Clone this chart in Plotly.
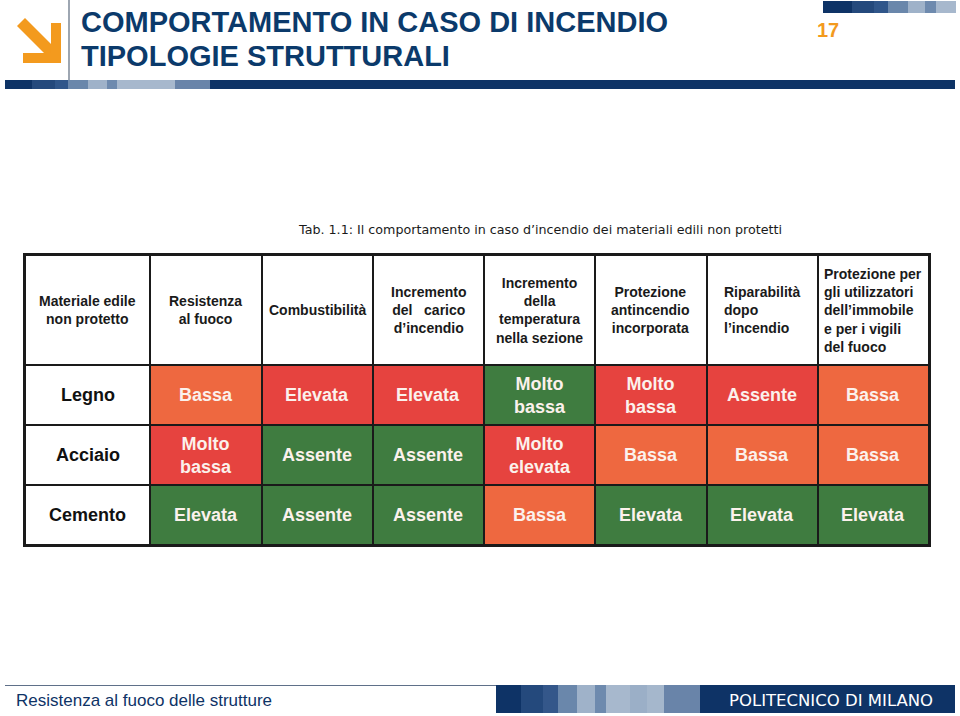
import plotly.graph_objects as go

W, H = 960, 716

# --- data -----------------------------------------------------------------
materials = ["Legno", "Acciaio", "Cemento"]
headers = [
    "Materiale edile<br>non protetto",
    "Resistenza<br>al fuoco",
    "Combustibilità",
    "Incremento<br>del   carico<br>d’incendio",
    "Incremento<br>della<br>temperatura<br>nella sezione",
    "Protezione<br>antincendio<br>incorporata",
    "Riparabilità<br>dopo<br>l’incendio",
    "Protezione per<br>gli utilizzatori<br>dell’immobile<br>e per i vigili<br>del fuoco",
]
values = [
    ["Bassa", "Elevata", "Elevata", "Molto<br>bassa", "Molto<br>bassa", "Assente", "Bassa"],
    ["Molto<br>bassa", "Assente", "Assente", "Molto<br>elevata", "Bassa", "Bassa", "Bassa"],
    ["Elevata", "Assente", "Assente", "Bassa", "Elevata", "Elevata", "Elevata"],
]
# 1 = favorevole (verde), 2 = medio (arancio), 3 = sfavorevole (rosso)
ratings = [
    [2, 3, 3, 1, 3, 3, 2],
    [3, 1, 1, 3, 2, 2, 2],
    [1, 1, 1, 2, 1, 1, 1],
]
caption = "Tab. 1.1: Il comportamento in caso d’incendio dei materiali edili non protetti"

# --- style ----------------------------------------------------------------
NAVY = "#0E3366"
ORANGE = "#F39A1E"
WHITE, GREEN, AMBER, RED = "#FFFFFF", "#3F7C40", "#EE6840", "#E6433F"
col_w = [125, 111, 111, 111, 111, 111, 111, 111]
row_h = [110, 60, 60, 60]
header_align = ["center"] * 6 + ["left", "left"]
ARIAL = "Arial, Liberation Sans, sans-serif"

bar_top = [(5, 32, "#0E3366"), (32, 55, "#24497C"), (55, 68, "#30568A"), (68, 88, "#6A87AB"),
           (88, 107, "#9FB2C9"), (107, 117, "#6E8AAE"), (117, 175, "#A7B8CD"),
           (175, 210, "#6984A9"), (210, 955, NAVY)]
squares = [(823, 852, "#0E3366"), (852, 874, "#24497C"), (874, 888, "#30568A"), (888, 908, "#6A87AB"),
           (908, 925, "#9FB2C9"), (925, 936, "#6E8AAE"), (936, 956, "#A7B8CD")]
bar_bottom = [(496, 521, "#0E3366"), (521, 543, "#24497C"), (543, 558, "#34578A"), (558, 577, "#6A87AB"),
              (577, 595, "#9FB2C9"), (595, 606, "#6E8AAE"), (606, 630, "#A7B8CD"), (630, 647, "#9BAFC7"),
              (647, 664, "#A5B7CC"), (664, 700, "#6984A9"), (700, 955, NAVY)]


def px(x):
    return x / W


def py(y):
    return 1 - y / H


# --- table as heatmap -------------------------------------------------------
x_edges = [0]
for w in col_w:
    x_edges.append(x_edges[-1] + w)
y_edges = [0]
for h in row_h:
    y_edges.append(y_edges[-1] + h)
x_mid = [(x_edges[i] + x_edges[i + 1]) / 2 for i in range(len(col_w))]
y_mid = [(y_edges[i] + y_edges[i + 1]) / 2 for i in range(len(row_h))]

z = [[0] * len(headers)] + [[0] + r for r in ratings]
cs = [[0, WHITE], [1 / 6, WHITE], [1 / 6, GREEN], [0.5, GREEN],
      [0.5, AMBER], [5 / 6, AMBER], [5 / 6, RED], [1, RED]]

fig = go.Figure(go.Heatmap(
    z=z, x=x_edges, y=y_edges, zmin=0, zmax=3, colorscale=cs,
    showscale=False, xgap=2, ygap=2, hoverinfo="skip",
))

ann = []
for j, h in enumerate(headers):
    ann.append(dict(x=x_mid[j], y=y_mid[0], text=h, showarrow=False, align=header_align[j],
                    font=dict(family=ARIAL, size=14, color="#1A1A1A", weight="bold")))
for i, m in enumerate(materials):
    ann.append(dict(x=x_mid[0], y=y_mid[i + 1], text=m, showarrow=False,
                    font=dict(family=ARIAL, size=18, color="#111111", weight="bold")))
    for j, v in enumerate(values[i]):
        ann.append(dict(x=x_mid[j + 1], y=y_mid[i + 1], text=v, showarrow=False,
                        font=dict(family=ARIAL, size=18, color="#FBF1EC", weight="bold")))

# --- slide decorations --------------------------------------------------------
shapes = []
for x0, x1, c in bar_top:
    shapes.append(dict(type="rect", xref="paper", yref="paper", x0=px(x0), x1=px(x1),
                       y0=py(89), y1=py(80), fillcolor=c, line_width=0))
for x0, x1, c in squares:
    shapes.append(dict(type="rect", xref="paper", yref="paper", x0=px(x0), x1=px(x1),
                       y0=py(13), y1=py(1), fillcolor=c, line_width=0))
for x0, x1, c in bar_bottom:
    shapes.append(dict(type="rect", xref="paper", yref="paper", x0=px(x0), x1=px(x1),
                       y0=py(713), y1=py(685), fillcolor=c, line_width=0))
shapes.append(dict(type="line", xref="paper", yref="paper", x0=px(5), x1=px(496),
                   y0=py(685.5), y1=py(685.5), line=dict(color="#5F7089", width=1)))
shapes.append(dict(type="line", xref="paper", yref="paper", x0=px(69), x1=px(69),
                   y0=py(0), y1=py(80), line=dict(color="#5D6B7E", width=1.2)))
# logo arrow
shaft = [(17, 26), (25, 18), (56, 49), (48, 57)]
head = [(51, 23), (61, 23), (61, 63), (23, 63), (23, 53), (51, 53)]
for poly in (shaft, head):
    path = "M " + " L ".join(f"{px(a):.5f},{py(b):.5f}" for a, b in poly) + " Z"
    shapes.append(dict(type="path", xref="paper", yref="paper", path=path,
                       fillcolor=ORANGE, line_width=0))

ann += [
    dict(xref="paper", yref="paper", x=px(79), y=py(22), xanchor="left", yanchor="middle",
         text="COMPORTAMENTO IN CASO DI INCENDIO", showarrow=False,
         font=dict(family=ARIAL, size=29, color="#0B3A6B", weight="bold")),
    dict(xref="paper", yref="paper", x=px(79), y=py(56), xanchor="left", yanchor="middle",
         text="TIPOLOGIE STRUTTURALI", showarrow=False,
         font=dict(family=ARIAL, size=29, color="#0B3A6B", weight="bold")),
    dict(xref="paper", yref="paper", x=px(828), y=py(30), xanchor="center", yanchor="middle",
         text="17", showarrow=False,
         font=dict(family=ARIAL, size=20, color=ORANGE, weight="bold")),
    dict(xref="paper", yref="paper", x=px(540), y=py(230), xanchor="center", yanchor="middle",
         text=caption, showarrow=False,
         font=dict(family="DejaVu Sans, Verdana, sans-serif", size=12.7, color="#1A1A1A")),
    dict(xref="paper", yref="paper", x=px(14), y=py(700), xanchor="left", yanchor="middle",
         text="Resistenza al fuoco delle strutture", showarrow=False,
         font=dict(family=ARIAL, size=17, color=NAVY)),
    dict(xref="paper", yref="paper", x=px(831), y=py(700), xanchor="center", yanchor="middle",
         text="POLITECNICO DI MILANO", showarrow=False,
         font=dict(family="DejaVu Sans, sans-serif", size=16.5, color="white")),
]

fig.update_layout(
    width=W, height=H, margin=dict(l=0, r=0, t=0, b=0),
    paper_bgcolor="white", plot_bgcolor="#1A1A1A",
    xaxis=dict(domain=[px(25), px(929)], range=[0, x_edges[-1]], visible=True,
               showticklabels=False, ticks="", showgrid=False, zeroline=False,
               showline=True, mirror=True, linecolor="#1A1A1A", linewidth=2),
    yaxis=dict(domain=[py(545), py(255)], range=[y_edges[-1], 0],
               showticklabels=False, ticks="", showgrid=False, zeroline=False,
               showline=True, mirror=True, linecolor="#1A1A1A", linewidth=2),
    shapes=shapes, annotations=ann, showlegend=False,
)

fig.write_html("out.html", config={"displayModeBar": False},
               post_script="document.body.style.margin='0';")
